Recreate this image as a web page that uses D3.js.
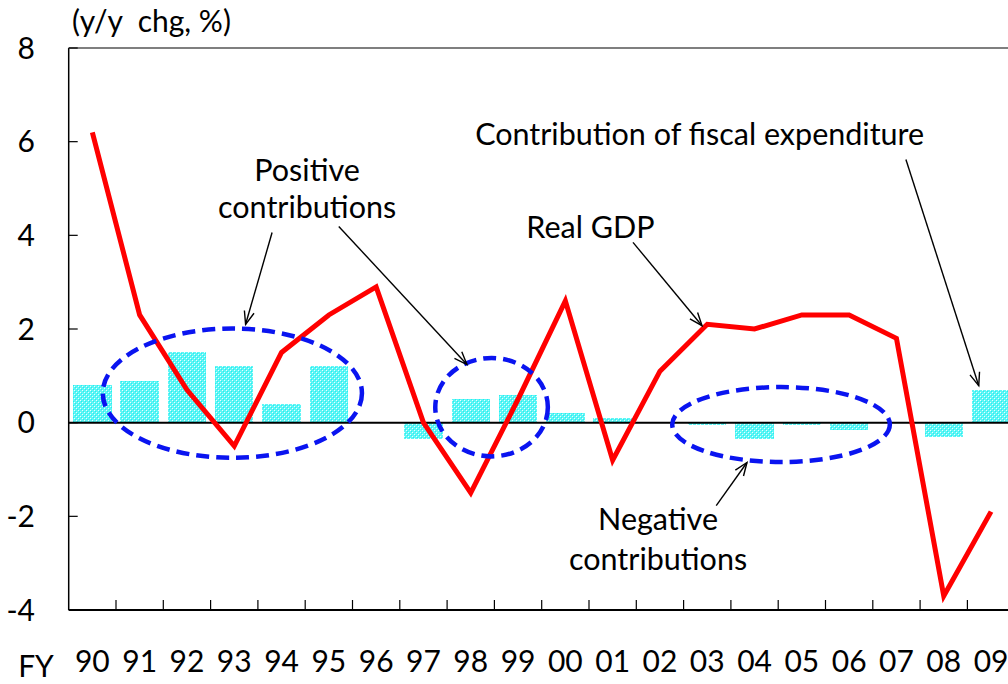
<!DOCTYPE html>
<html>
<head>
<meta charset="utf-8">
<script src="https://cdn.jsdelivr.net/npm/d3@7"></script>
<style>
  body { margin: 0; background: #fff; }
  svg { display: block; overflow: hidden; }
  text { font-family: Lato, "Open Sans", sans-serif; fill: #000; }
</style>
</head>
<body>
<div id="chart"></div>
<script>
// fiscal years
var years = ["90", "91", "92", "93", "94", "95", "96", "97", "98", "99",
             "00", "01", "02", "03", "04", "05", "06", "07", "08", "09"];
// real GDP, y/y %
var realGdp = [6.2, 2.3, 0.7, -0.5, 1.5, 2.3, 2.9, 0.0, -1.5, 0.5,
               2.6, -0.8, 1.1, 2.1, 2.0, 2.3, 2.3, 1.8, -3.7, -1.9];
// contribution of fiscal expenditure, % pts
var fiscalContrib = [0.8, 0.9, 1.5, 1.2, 0.4, 1.2, 0.0, -0.35, 0.5, 0.6,
                     0.2, 0.1, 0.0, -0.05, -0.35, -0.05, -0.15, 0.0, -0.3, 0.7];
var yTicks = [-4, -2, 0, 2, 4, 6, 8];

// annotations, in band units (x) and % (y)
var ellipses = [
    { cx: 3.46, cy: 0.63, rx: 2.74, ry: 1.38 },
    { cx: 8.94, cy: 0.33, rx: 1.19, ry: 1.05 },
    { cx: 15.06, cy: -0.04, rx: 2.3, ry: 0.8 }
];
var arrows = [
    { x1: 4.30, y1: 4.06, x2: 3.74, y2: 2.10 },
    { x1: 5.71, y1: 4.19, x2: 8.42, y2: 1.24 },
    { x1: 11.93, y1: 3.85, x2: 13.39, y2: 2.07 },
    { x1: 17.70, y1: 5.62, x2: 19.24, y2: 0.79 },
    { x1: 13.69, y1: -1.77, x2: 14.34, y2: -0.85 }
];
var labels = [
    { x: 5.04, y: 5.17, text: "Positive" },
    { x: 5.04, y: 4.36, text: "contributions" },
    { x: 11.03, y: 3.95, text: "Real GDP" },
    { x: 13.34, y: 5.92, text: "Contribution of fiscal expenditure" },
    { x: 12.46, y: -2.29, text: "Negative" },
    { x: 12.46, y: -3.14, text: "contributions" }
];

var drawChart = function () {
    var width = 1008, height = 684;
    var left = 68.7, band = 47.3, plotTop = 48, plotBottom = 610;
    var fontSize = "30px";

    var svg = d3.select("#chart").append("svg")
        .attr("width", width)
        .attr("height", height);

    var x = d3.scaleBand()
        .domain(years)
        .range([left, left + band * years.length])
        .paddingInner(0.19)
        .paddingOuter(0.095);

    var xu = d3.scaleLinear()
        .domain([0, years.length])
        .range([left, left + band * years.length]);

    var y = d3.scaleLinear()
        .domain([-4, 8])
        .range([plotBottom, plotTop]);

    var defs = svg.append("defs");

    // speckled light cyan fill like the original bars
    var pat = defs.append("pattern")
        .attr("id", "dots")
        .attr("width", 4).attr("height", 4)
        .attr("patternUnits", "userSpaceOnUse");
    pat.append("rect").attr("width", 4).attr("height", 4).attr("fill", "#5ff5f5");
    pat.append("rect").attr("x", 0).attr("y", 0).attr("width", 1).attr("height", 1).attr("fill", "#e8ffff");
    pat.append("rect").attr("x", 2).attr("y", 2).attr("width", 1).attr("height", 1).attr("fill", "#e8ffff");
    pat.append("rect").attr("x", 1).attr("y", 1).attr("width", 1).attr("height", 1).attr("fill", "#20f0f0");
    pat.append("rect").attr("x", 3).attr("y", 3).attr("width", 1).attr("height", 1).attr("fill", "#20f0f0");

    defs.append("marker")
        .attr("id", "arrow")
        .attr("markerUnits", "userSpaceOnUse")
        .attr("viewBox", "-14 -7 16 14")
        .attr("markerWidth", 16).attr("markerHeight", 14)
        .attr("refX", 0).attr("refY", 0)
        .attr("orient", "auto")
        .append("path")
        .attr("d", "M-13,-5 L0,0 L-13,5")
        .attr("fill", "none")
        .attr("stroke", "#000")
        .attr("stroke-width", 1.4);

    // bars
    svg.append("g")
        .selectAll("rect")
        .data(years)
        .join("rect")
        .attr("x", d => x(d))
        .attr("width", x.bandwidth())
        .attr("y", (d, i) => y(Math.max(0, fiscalContrib[i])))
        .attr("height", (d, i) => Math.abs(y(fiscalContrib[i]) - y(0)))
        .attr("fill", "url(#dots)")
        .attr("shape-rendering", "crispEdges");

    // frame: left axis, top line, bottom axis
    svg.append("line")
        .attr("x1", left).attr("x2", left)
        .attr("y1", plotTop).attr("y2", plotBottom)
        .attr("stroke", "#000").attr("stroke-width", 1.5);
    svg.append("line")
        .attr("x1", left).attr("x2", width)
        .attr("y1", plotTop).attr("y2", plotTop)
        .attr("stroke", "#555").attr("stroke-width", 1.5);
    svg.append("line")
        .attr("x1", left).attr("x2", width)
        .attr("y1", plotBottom).attr("y2", plotBottom)
        .attr("stroke", "#000").attr("stroke-width", 2);

    // y ticks (inward) and labels
    svg.append("g")
        .selectAll("line")
        .data(yTicks)
        .join("line")
        .attr("x1", left).attr("x2", left + 9)
        .attr("y1", d => y(d)).attr("y2", d => y(d))
        .attr("stroke", "#000").attr("stroke-width", 1.2);
    svg.append("g")
        .selectAll("text")
        .data(yTicks)
        .join("text")
        .attr("x", 35)
        .attr("y", d => y(d))
        .attr("dy", "0.36em")
        .attr("text-anchor", "end")
        .style("font-size", fontSize)
        .text(d => d);

    // x ticks at band boundaries (inward)
    svg.append("g")
        .selectAll("line")
        .data(d3.range(1, years.length + 1))
        .join("line")
        .attr("x1", d => xu(d)).attr("x2", d => xu(d))
        .attr("y1", plotBottom).attr("y2", plotBottom - 10)
        .attr("stroke", "#000").attr("stroke-width", 1.2);
    svg.append("g")
        .selectAll("text")
        .data(years)
        .join("text")
        .attr("x", d => x(d) + x.bandwidth() / 2)
        .attr("y", 672)
        .attr("text-anchor", "middle")
        .style("font-size", fontSize)
        .text(d => d);
    svg.append("text")
        .attr("x", 36).attr("y", 677)
        .attr("text-anchor", "middle")
        .style("font-size", fontSize)
        .text("FY");

    svg.append("text")
        .attr("x", 72).attr("y", 32)
        .style("font-size", fontSize)
        .style("white-space", "pre")
        .text("(y/y  chg, %)");

    // zero line
    svg.append("line")
        .attr("x1", left).attr("x2", width)
        .attr("y1", y(0)).attr("y2", y(0))
        .attr("stroke", "#000").attr("stroke-width", 2);

    // real GDP line
    var line = d3.line()
        .x((d, i) => x(years[i]) + x.bandwidth() / 2)
        .y(d => y(d));
    svg.append("path")
        .datum(realGdp)
        .attr("d", line)
        .attr("fill", "none")
        .attr("stroke", "#ff0000")
        .attr("stroke-width", 5)
        .attr("stroke-linejoin", "miter");

    // dashed ellipses
    svg.append("g")
        .selectAll("ellipse")
        .data(ellipses)
        .join("ellipse")
        .attr("cx", d => xu(d.cx))
        .attr("cy", d => y(d.cy))
        .attr("rx", d => xu(d.rx) - xu(0))
        .attr("ry", d => y(0) - y(d.ry))
        .attr("fill", "none")
        .attr("stroke", "#0a14f0")
        .attr("stroke-width", 4.5)
        .attr("stroke-dasharray", "13,7");

    // arrows
    svg.append("g")
        .selectAll("line")
        .data(arrows)
        .join("line")
        .attr("x1", d => xu(d.x1)).attr("y1", d => y(d.y1))
        .attr("x2", d => xu(d.x2)).attr("y2", d => y(d.y2))
        .attr("stroke", "#000")
        .attr("stroke-width", 1.4)
        .attr("marker-end", "url(#arrow)");

    // annotation text
    svg.append("g")
        .selectAll("text")
        .data(labels)
        .join("text")
        .attr("x", d => xu(d.x))
        .attr("y", d => y(d.y))
        .attr("text-anchor", "middle")
        .style("font-size", "30.5px")
        .text(d => d.text);
};

drawChart();
</script>
</body>
</html>
